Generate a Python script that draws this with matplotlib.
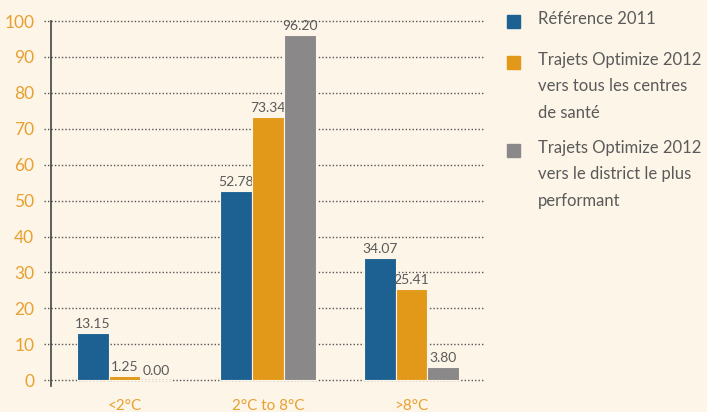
import matplotlib.pyplot as plt
from matplotlib.patches import Rectangle
import numpy as np

categories = ['<2°C', '2°C to 8°C', '>8°C']
series_names = ['Référence 2011',
                'Trajets Optimize 2012\nvers tous les centres\nde santé',
                'Trajets Optimize 2012\nvers le district le plus\nperformant']
reference_2011 = [13.15, 52.78, 34.07]
optimize_centres = [1.25, 73.34, 25.41]
optimize_district = [0.00, 96.20, 3.80]
y_ticks = [0, 10, 20, 30, 40, 50, 60, 70, 80, 90, 100]

colors = ['#1c6192', '#e29819', '#8a8889']
bg = '#fdf5e8'
orange_txt = '#e8a030'
gray_txt = '#5a5a5a'

plt.rcParams['font.family'] = ['Lato', 'DejaVu Sans']

fig = plt.figure(figsize=(7.07, 4.12), dpi=100, facecolor=bg)
ax = fig.add_axes([51 / 707, 1 - 386 / 412, 434 / 707, 365 / 412])
ax.set_facecolor(bg)

x = np.arange(len(categories))
width = 0.222
all_series = [reference_2011, optimize_centres, optimize_district]
for i, vals in enumerate(all_series):
    bars = ax.bar(x + (i - 1) * width, vals, width, color=colors[i],
                  edgecolor=bg, linewidth=0.8, zorder=3)
    ax.bar_label(bars, labels=[f'{v:.2f}' for v in vals], padding=2,
                 fontsize=10, color=gray_txt)

ax.set_xlim(-0.512, 2.512)
ax.set_ylim(-1.6, 100)

# dotted grid lines, running slightly left of the spine
for yv in y_ticks:
    ax.plot([-0.016, 1], [yv, yv], transform=ax.get_yaxis_transform(),
            color='#555555', linestyle=(0, (1, 1.5)), linewidth=1,
            clip_on=False, zorder=1)

ax.set_yticks(y_ticks)
ax.set_yticklabels([str(v) for v in y_ticks], color=orange_txt, fontsize=12.5)
ax.tick_params(axis='y', length=0, pad=12)
ax.set_xticks(x)
ax.set_xticklabels(categories, color=orange_txt, fontsize=11)
ax.tick_params(axis='x', length=0, pad=9)

for s in ['top', 'right', 'bottom']:
    ax.spines[s].set_visible(False)
ax.spines['left'].set_color('#444444')
ax.spines['left'].set_linewidth(1.2)

# legend drawn by hand
legend_y = [21, 62, 150]
for i, name in enumerate(series_names):
    yc = 1 - legend_y[i] / 412
    fig.add_artist(Rectangle((507 / 707, yc - 6.5 / 412), 13 / 707, 13 / 412,
                             transform=fig.transFigure, color=colors[i]))
    fig.text(538 / 707, yc + 10 / 412, name, fontsize=12, color=gray_txt,
             va='top', ha='left', linespacing=1.8)

fig.savefig('out.png', dpi=100, facecolor=bg)
